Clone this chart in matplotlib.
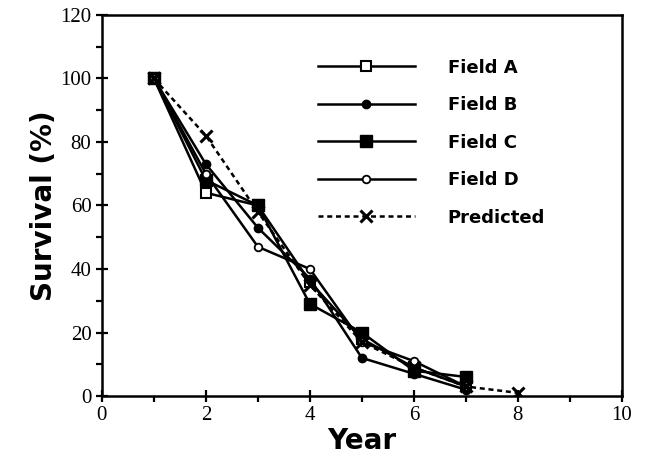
import matplotlib
matplotlib.use('Agg')
import matplotlib.pyplot as plt
from matplotlib.ticker import MultipleLocator

# survival data
years = [1, 2, 3, 4, 5, 6, 7]
field_a = [100, 64, 60, 36, 18, 9, 3]
field_b = [100, 73, 53, 37, 12, 7, 2]
field_c = [100, 68, 60, 29, 20, 8, 6]
field_d = [100, 70, 47, 40, 17, 11, 3]
pred_years = [1, 2, 3, 4, 5, 6, 7, 8]
predicted = [100, 82, 58, 35, 17, 9, 3, 1]

fig = plt.figure(figsize=(6.45, 4.67), dpi=100)
ax = fig.add_axes([0.158, 0.152, 0.806, 0.816])

ax.plot(years, field_a, '-', color='black', lw=1.8, marker='s', ms=7.5,
        mfc='white', mec='black', mew=1.5, label='Field A')
ax.plot(years, field_b, '-', color='black', lw=1.8, marker='o', ms=6,
        mfc='black', mec='black', label='Field B')
ax.plot(years, field_c, '-', color='black', lw=1.8, marker='s', ms=8,
        mfc='black', mec='black', label='Field C')
ax.plot(years, field_d, '-', color='black', lw=1.8, marker='o', ms=5.5,
        mfc='white', mec='black', mew=1.3, label='Field D')
ax.plot(pred_years, predicted, color='black', lw=1.8, ls=(0, (2, 1.5)),
        marker='x', ms=8, mew=2.2, label='Predicted')

ax.set_xlim(0, 10)
ax.set_ylim(0, 120)
ax.xaxis.set_major_locator(MultipleLocator(2))
ax.xaxis.set_minor_locator(MultipleLocator(1))
ax.yaxis.set_major_locator(MultipleLocator(20))
ax.yaxis.set_minor_locator(MultipleLocator(10))
ax.tick_params(which='major', direction='inout', length=9, width=1.6,
               labelsize=15, pad=3)
ax.tick_params(which='minor', direction='out', length=4, width=1.6)
for lab in ax.get_xticklabels() + ax.get_yticklabels():
    lab.set_family('Liberation Serif')
for sp in ax.spines.values():
    sp.set_linewidth(1.8)

ax.set_xlabel('Year', fontsize=20, fontweight='bold', family='DejaVu Sans', labelpad=1)
ax.set_ylabel('Survival (%)', fontsize=20, fontweight='bold', family='DejaVu Sans', labelpad=2)

leg = ax.legend(loc='upper left', bbox_to_anchor=(0.415, 0.885), frameon=False,
                numpoints=1, handlelength=5.4, handletextpad=1.8,
                labelspacing=1.08, borderpad=0, borderaxespad=0,
                prop={'family': 'DejaVu Sans', 'weight': 'bold', 'size': 13})

fig.savefig('out.png', dpi=100)
